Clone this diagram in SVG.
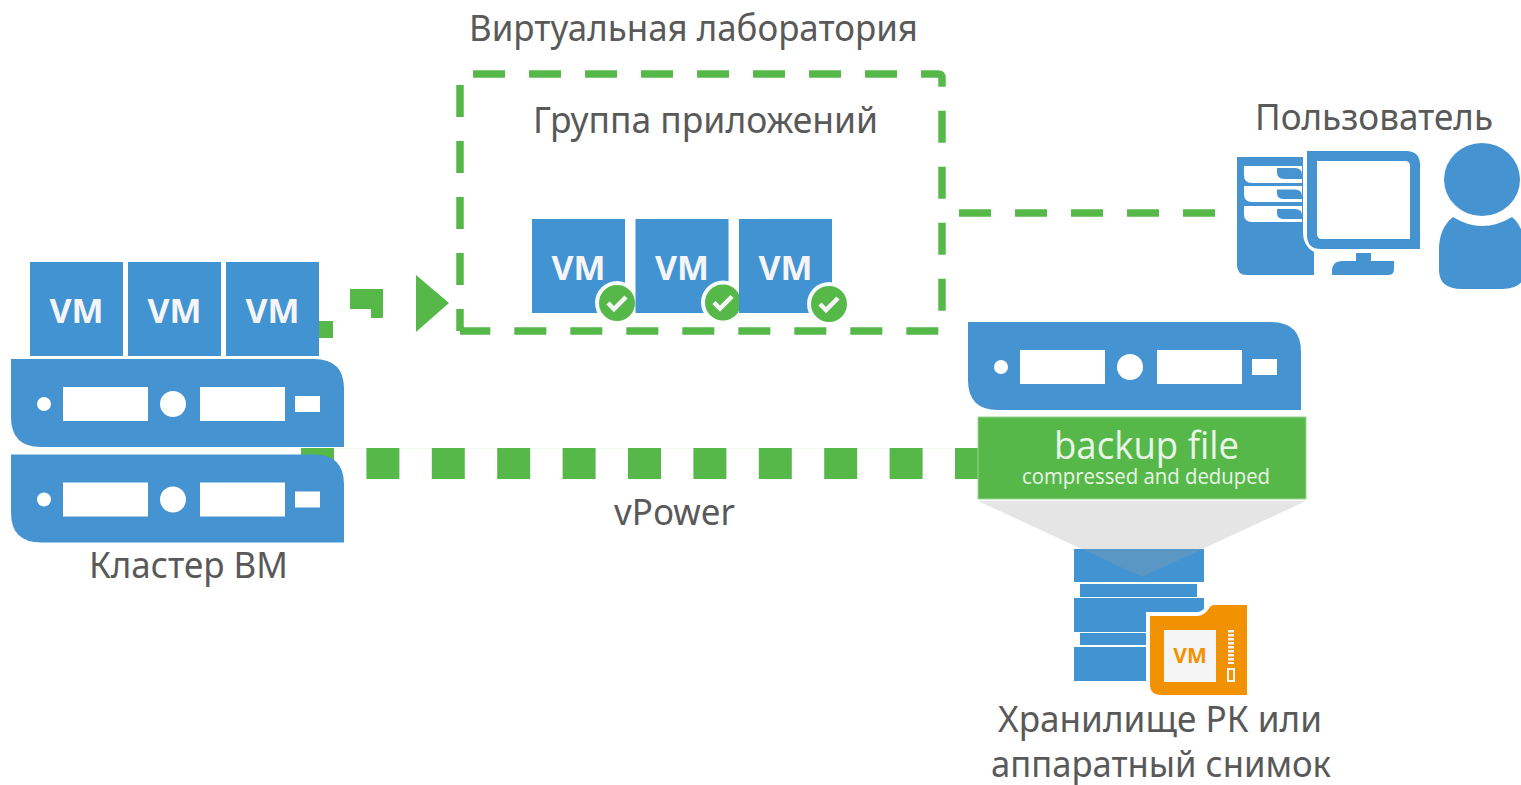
<svg xmlns="http://www.w3.org/2000/svg" xmlns:xlink="http://www.w3.org/1999/xlink" width="1521" height="785" viewBox="0 0 1521 785">
<style>
.lbl{font-family:"Noto Sans","Liberation Sans",sans-serif;font-size:36px;fill:#595959}
.vm{font-family:"Open Sans","Liberation Sans",sans-serif;font-weight:700;font-size:34px;fill:#f5f5f5;text-anchor:middle}
.bx{fill:#4193d2}
.sv{fill:#4593d1}
.g{fill:#57b84a}
.dash{fill:none;stroke:#57b84a;stroke-width:7.5;stroke-dasharray:32 24}
.w{fill:#fff}
.chk{fill:none;stroke:#f5f5f5;stroke-width:4.5}
.bf{font-family:"Open Sans","Liberation Sans",sans-serif;fill:#e9f5e7}
</style>
<defs>
<g id="srv">
<path class="sv" d="M0 0H303Q333 0 333 30V88H30Q0 88 0 58Z"/>
<circle class="w" cx="33" cy="45" r="7"/>
<rect class="w" x="52" y="28" width="85" height="34"/>
<circle class="w" cx="162" cy="45" r="13"/>
<rect class="w" x="189" y="28" width="85" height="34"/>
<rect class="w" x="284" y="37" width="25" height="16"/>
</g>
<g id="vmb">
<rect class="bx" width="93" height="94"/>
<text class="vm" x="46.500" y="60.500" textLength="54" lengthAdjust="spacingAndGlyphs">VM</text>
</g>
<g id="ok">
<circle class="w" r="22" fill-opacity=".95"/>
<circle class="g" r="18"/>
<path class="chk" d="M-9 0L-3 6L9 -6"/>
</g>
</defs>

<g id="connectors">
<line x1="334" y1="448.500" x2="978" y2="448.500" stroke="#eef8ec" stroke-width="1"/>
<line x1="301" y1="463.500" x2="978" y2="463.500" stroke="#57b84a" stroke-width="31" stroke-dasharray="33 32.400"/>
<rect class="g" x="318" y="321" width="15" height="17"/>
<path class="g" d="M350 289H383V318H371V309H350Z"/>
<path class="g" d="M416 275L449 303L416 332Z"/>
<line x1="959" y1="213" x2="1216" y2="213" stroke="#57b84a" stroke-width="7.500" stroke-dasharray="32 24"/>
</g>

<g id="virtual-lab">
<path class="dash" d="M473 74H938Q942 74 942 78V331H460"/>
<path class="dash" d="M460 85V331"/>
<text class="lbl" x="469" y="41" textLength="449" lengthAdjust="spacingAndGlyphs">Виртуальная лаборатория</text>
<text class="lbl" x="533" y="133" textLength="345" lengthAdjust="spacingAndGlyphs">Группа приложений</text>
</g>

<g id="app-vm-1"><use xlink:href="#vmb" href="#vmb" x="532" y="219"/><use xlink:href="#ok" href="#ok" x="617" y="303"/></g>
<g id="app-vm-2"><use xlink:href="#vmb" href="#vmb" x="635.500" y="219"/><use xlink:href="#ok" href="#ok" x="723" y="302.500"/></g>
<g id="app-vm-3"><use xlink:href="#vmb" href="#vmb" x="739" y="219"/><use xlink:href="#ok" href="#ok" x="829" y="304"/></g>

<g id="cluster">
<use xlink:href="#vmb" href="#vmb" x="30" y="262"/>
<use xlink:href="#vmb" href="#vmb" x="128" y="262"/>
<use xlink:href="#vmb" href="#vmb" x="226" y="262"/>
<use xlink:href="#srv" href="#srv" x="11" y="359"/>
<use xlink:href="#srv" href="#srv" x="11" y="454.500"/>
<text class="lbl" x="89" y="578" textLength="199" lengthAdjust="spacingAndGlyphs">Кластер ВМ</text>
</g>

<g id="vpower-label"><text class="lbl" x="614" y="525" textLength="121" lengthAdjust="spacingAndGlyphs">vPower</text></g>

<g id="user">
<text class="lbl" x="1255" y="130" textLength="238" lengthAdjust="spacingAndGlyphs">Пользователь</text>
<path class="sv" d="M1237 157H1303V233Q1303 246 1314 252V275H1247Q1237 275 1237 265Z"/>
<path class="w" d="M1244 166H1302V183H1252Q1244 183 1244 175Z"/>
<path class="w" d="M1244 186H1302V202H1252Q1244 202 1244 194Z"/>
<path class="w" d="M1244 206H1302V222H1252Q1244 222 1244 214Z"/>
<path class="sv" d="M1277 168H1295Q1302 168 1302 175V179H1284Q1277 179 1277 172Z"/>
<path class="sv" d="M1277 189.500H1295Q1302 189.500 1302 196V199H1284Q1277 199 1277 193Z"/>
<path class="sv" d="M1277 209H1295Q1302 209 1302 215V219H1284Q1277 219 1277 213Z"/>
<path class="sv" fill-rule="evenodd" d="M1307 151H1406Q1420 151 1420 165V249H1321Q1307 249 1307 235ZM1317 161V234Q1317 239 1322 239H1410V166Q1410 161 1405 161Z"/>
<rect class="sv" x="1356" y="253" width="15" height="9"/>
<path class="sv" d="M1342 261H1394V269Q1394 275 1388 275H1332V271Q1332 261 1342 261Z"/>
<ellipse class="sv" cx="1482" cy="179.500" rx="38" ry="36.500"/>
<path class="sv" d="M1453 217Q1482 235 1512 217Q1525 228 1525 252V270Q1525 289 1502 289H1462Q1439 289 1439 270V250Q1439 228 1453 217Z"/>
</g>

<g id="backup-server"><use xlink:href="#srv" href="#srv" x="968" y="322"/></g>

<g id="backup-file">
<rect class="g" x="978" y="417" width="328" height="82" stroke="#9ad491" stroke-width="1"/>
<text class="bf" x="1054" y="459" font-size="39" textLength="185" lengthAdjust="spacingAndGlyphs">backup file</text>
<text class="bf" x="1022" y="484" font-size="21" textLength="248" lengthAdjust="spacingAndGlyphs">compressed and deduped</text>
</g>

<g id="repository">
<path fill="#e5e5e5" d="M978 501H1306L1142 577Z"/>
<rect class="bx" x="1074" y="549" width="130" height="33"/>
<rect class="bx" x="1080" y="584" width="117" height="13"/>
<rect class="bx" x="1074" y="598" width="130" height="34"/>
<rect class="bx" x="1080" y="633" width="67" height="12"/>
<rect class="bx" x="1074" y="647" width="73" height="34"/>
<path fill="#5a97c5" d="M1082 549H1203L1142 577Z"/>
<path fill="#f39200" stroke="#fff" stroke-width="4" d="M1148 614H1197Q1203 614 1207 608Q1209 603 1215 603H1249V697H1162Q1148 697 1148 685Z"/>
<rect fill="#f5f5f5" x="1164" y="630" width="52" height="52"/>
<text x="1190" y="663" text-anchor="middle" font-family="Open Sans,Liberation Sans,sans-serif" font-weight="700" font-size="21" fill="#f39200">VM</text>
<line x1="1231" y1="630" x2="1231" y2="664" stroke="#f5f5f5" stroke-width="6" stroke-dasharray="2.500 1.500"/>
<rect x="1228" y="669" width="6" height="12" fill="#f39200" stroke="#f5f5f5" stroke-width="2"/>
<text class="lbl" x="998" y="732" textLength="324" lengthAdjust="spacingAndGlyphs">Хранилище РК или</text>
<text class="lbl" x="991" y="777" textLength="340" lengthAdjust="spacingAndGlyphs">аппаратный снимок</text>
</g>
</svg>
